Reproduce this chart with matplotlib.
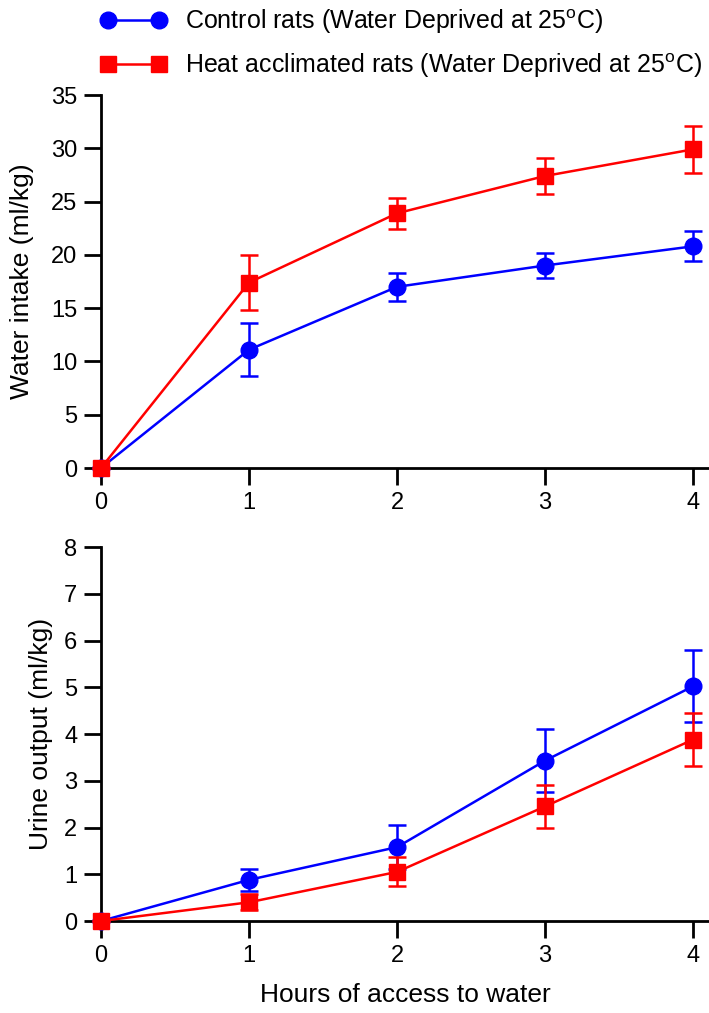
import numpy as np
import matplotlib
matplotlib.use('Agg')
import matplotlib.pyplot as plt
from matplotlib.lines import Line2D

plt.rcParams['font.family'] = ['Liberation Sans', 'DejaVu Sans']

# Hours of access to water
hours = [0, 1, 2, 3, 4]

# Water intake (ml/kg)
intake_control = [0, 11.1, 17.0, 19.0, 20.8]
intake_control_err = [0, 2.5, 1.3, 1.2, 1.4]
intake_heat = [0, 17.4, 23.9, 27.4, 29.9]
intake_heat_err = [0, 2.6, 1.45, 1.65, 2.2]

# Urine output (ml/kg)
urine_control = [0, 0.88, 1.58, 3.43, 5.02]
urine_control_err = [0, 0.23, 0.47, 0.67, 0.77]
urine_heat = [0, 0.40, 1.05, 2.45, 3.88]
urine_heat_err = [0, 0.17, 0.31, 0.45, 0.57]

label_control = 'Control rats (Water Deprived at 25$\\mathregular{^oC}$)'
label_heat = 'Heat acclimated rats (Water Deprived at 25$\\mathregular{^oC}$)'

fig = plt.figure(figsize=(7.09, 10.13), dpi=100)
ax1 = fig.add_axes([101/709, 1 - 468/1013, 608/709, 373/1013])
ax2 = fig.add_axes([101/709, 1 - 921/1013, 608/709, 374/1013])

def draw(ax, blue, blue_err, red, red_err):
    ax.errorbar(hours, blue, yerr=blue_err, color='#0000ff', marker='o', markersize=12,
                lw=1.8, elinewidth=1.8, capsize=6.5, capthick=1.8, clip_on=False, zorder=3)
    ax.errorbar(hours, red, yerr=red_err, color='#ff0000', marker='s', markersize=11,
                lw=1.8, elinewidth=1.8, capsize=6.5, capthick=1.8, clip_on=False, zorder=4)
    ax.set_xlim(0, 4.108)
    ax.set_xticks(hours)
    for s in ['top', 'right']:
        ax.spines[s].set_visible(False)
    for s in ['left', 'bottom']:
        ax.spines[s].set_linewidth(2)
    ax.tick_params(direction='out', length=12, width=2, labelsize=17, pad=5)

draw(ax1, intake_control, intake_control_err, intake_heat, intake_heat_err)
ax1.set_ylim(0, 35)
ax1.set_yticks(np.arange(0, 36, 5))
ax1.set_ylabel('Water intake (ml/kg)', fontsize=19, labelpad=12)

draw(ax2, urine_control, urine_control_err, urine_heat, urine_heat_err)
ax2.set_ylim(0, 8)
ax2.set_yticks(np.arange(0, 9, 1))
ax2.set_ylabel('Urine output (ml/kg)', fontsize=19, labelpad=8)
ax2.set_xlabel('Hours of access to water', fontsize=19, labelpad=12)

handles = [
    Line2D([], [], color='#0000ff', marker='o', markersize=12, lw=1.8),
    Line2D([], [], color='#ff0000', marker='s', markersize=11, lw=1.8),
]
fig.legend(handles, [label_control, label_heat], loc='upper left',
           bbox_to_anchor=(100/709, 1 - 7/1013), frameon=False, fontsize=18,
           numpoints=2, handlelength=2.64, handletextpad=0.76, labelspacing=0.62,
           borderpad=0, borderaxespad=0)

fig.savefig('out.png', dpi=100)
